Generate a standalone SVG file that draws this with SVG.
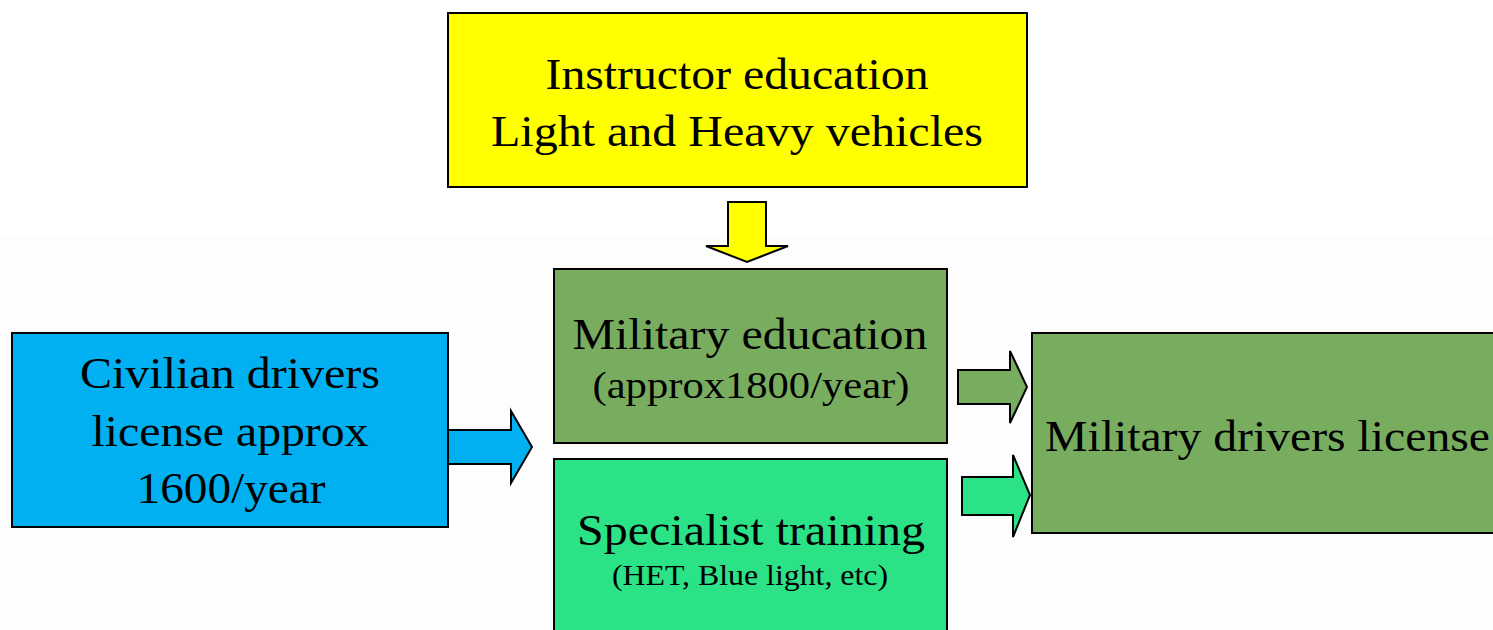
<svg xmlns="http://www.w3.org/2000/svg" width="1493" height="630" viewBox="0 0 1493 630">
<style>
.box{stroke:#000;stroke-width:2}
.arr{stroke:#000;stroke-width:2;stroke-linejoin:miter}
.t{font-family:'Liberation Serif','Times New Roman',Times,serif;fill:#000;text-anchor:middle}
.big{font-size:45px}
.mid{font-size:38px}
.sm{font-size:29px}
</style>
<rect x="0" y="0" width="1493" height="630" fill="#ffffff"/>
<rect x="0" y="235" width="1493" height="395" fill="#fdfdfd"/>
<g id="instructor">
<rect class="box" x="448" y="13" width="579" height="174" fill="#ffff00"/>
<text class="t big" x="737" y="89" textLength="383" lengthAdjust="spacingAndGlyphs">Instructor education</text>
<text class="t big" x="737" y="146" textLength="492" lengthAdjust="spacingAndGlyphs">Light and Heavy vehicles</text>
</g>
<g id="civilian">
<rect class="box" x="12" y="333" width="436" height="194" fill="#00b0f0"/>
<text class="t big" x="230" y="388" textLength="300" lengthAdjust="spacingAndGlyphs">Civilian drivers</text>
<text class="t big" x="230" y="446" textLength="277" lengthAdjust="spacingAndGlyphs">license approx</text>
<text class="t big" x="231" y="503" textLength="189" lengthAdjust="spacingAndGlyphs">1600/year</text>
</g>
<g id="military-education">
<rect class="box" x="554" y="269" width="393" height="174" fill="#78ad5f"/>
<text class="t big" x="750" y="349" textLength="355" lengthAdjust="spacingAndGlyphs">Military education</text>
<text class="t mid" x="751" y="398" textLength="317" lengthAdjust="spacingAndGlyphs">(approx1800/year)</text>
</g>
<g id="specialist">
<rect class="box" x="554" y="459" width="393" height="180" fill="#2be286"/>
<text class="t big" x="751" y="545" textLength="348" lengthAdjust="spacingAndGlyphs">Specialist training</text>
<text class="t sm" x="750" y="585" textLength="276" lengthAdjust="spacingAndGlyphs">(HET, Blue light, etc)</text>
</g>
<g id="military-license">
<rect class="box" x="1032" y="333" width="470" height="200" fill="#78ad5f"/>
<text class="t big" x="1045" y="451" style="text-anchor:start" textLength="445" lengthAdjust="spacingAndGlyphs">Military drivers license</text>
</g>
<g id="connectors">
<polygon class="arr" fill="#ffff00" points="728,202 766,202 766,246 788,246 747,262 706,246 728,246"/>
<polygon class="arr" fill="#00b0f0" points="448,430 511,430 511,411 532,447 511,483 511,464 448,464"/>
<polygon class="arr" fill="#78ad5f" points="958,370 1010,370 1010,351 1027,387 1010,423 1010,404 958,404"/>
<polygon class="arr" fill="#2be286" points="962,477 1013,477 1013,455 1030,495 1013,537 1013,515 962,515"/>
</g>
</svg>
